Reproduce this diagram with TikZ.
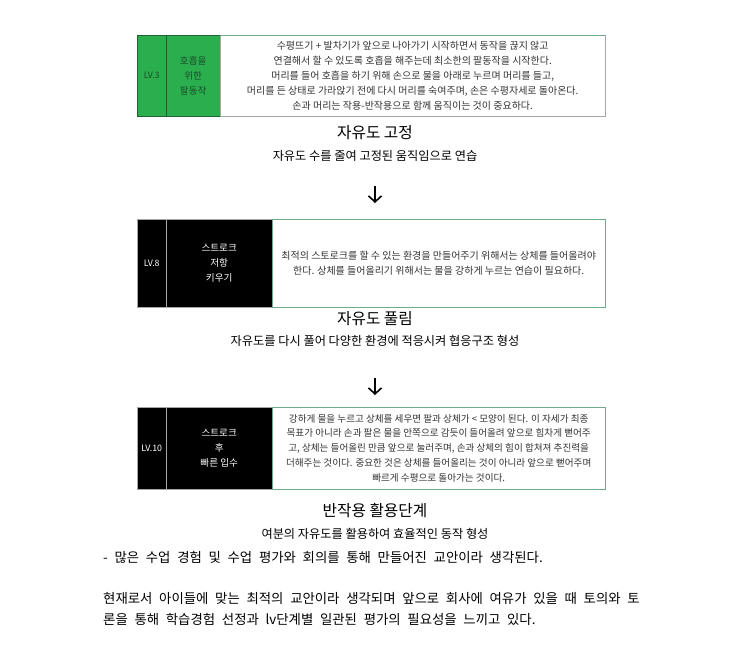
\documentclass[tikz,border=0pt]{standalone}
\usepackage{fontspec}
\setmainfont{Noto Sans CJK KR}
\usepackage{xcolor}
\usetikzlibrary{arrows.meta}

\definecolor{lvgreen}{HTML}{2BAE4E}
\definecolor{lvline}{HTML}{1F5F30}
\definecolor{lvtext}{HTML}{1E4D2B}
\definecolor{boxline}{HTML}{6FA88A}
\definecolor{sepgray}{HTML}{A6A6A6}

\newcommand{\notefont}{\fontsize{13.4}{15}\selectfont}
\newcommand{\widespace}{\spaceskip=0.5em plus 0.1em\relax}

\begin{document}
\begin{tikzpicture}[x=1pt, y=-1pt,
    cell/.style={draw, anchor=north west, inner sep=0pt, align=center,
        font=\fontsize{9.6}{14.8}\selectfont},
    greencell/.style={cell, fill=lvgreen, draw=lvline, text=lvtext},
    blackcell/.style={cell, fill=black, draw=sepgray, text=white},
    lvcell/.style={font=\fontsize{8.8}{10}\selectfont},
    textcell/.style={cell, fill=white, draw=boxline,
        font=\fontsize{10}{14.8}\selectfont, text=black!80},
    title/.style={font=\fontsize{15.7}{17}\selectfont},
    sub/.style={font=\fontsize{12.2}{14}\selectfont},
    body/.style={anchor=west, inner sep=0pt, font=\notefont},
    step arrow/.style={-{Straight Barb[length=6pt,width=13pt]}, line width=1.6pt}]

    \useasboundingbox (0,0) rectangle (740,649);

    % LV.3
    \node[greencell, lvcell, minimum width=29pt, minimum height=81pt] (lv3) at (137,35) {LV.3};
    \node[greencell, minimum width=54pt, minimum height=81pt] (g3) at (166,35) {호흡을\\위한\\팔동작};
    \node[textcell, draw=sepgray, minimum width=385pt, minimum height=81pt] (t3) at (220,35)
        {수평뜨기 + 발차기가 앞으로 나아가기 시작하면서 동작을 끊지 않고\\
         연결해서 할 수 있도록 호흡을 해주는데 최소한의 팔동작을 시작한다.\\
         머리를 들어 호흡을 하기 위해 손으로 물을 아래로 누르며 머리를 들고,\\
         머리를 든 상태로 가라앉기 전에 다시 머리를 숙여주며, 손은 수평자세로 돌아온다.\\
         손과 머리는 작용-반작용으로 함께 움직이는 것이 중요하다.};
    \draw[boxline] (t3.north west) -- (t3.north east);

    \node[title] (h1) at (375,133) {자유도 고정};
    \node[sub] (d1) at (375,156) {자유도 수를 줄여 고정된 움직임으로 연습};
    \coordinate (a1) at (375,186);
    \coordinate (b1) at (375,203);
    \draw[step arrow] (a1) -- (b1);

    % LV.8
    \node[blackcell, lvcell, minimum width=29pt, minimum height=88pt] (lv8) at (137,219) {LV.8};
    \node[blackcell, minimum width=106pt, minimum height=88pt] (s8) at (166,219) {스트로크\\저항\\키우기};
    \node[textcell, minimum width=333pt, minimum height=88pt] (t8) at (272,219)
        {최적의 스토로크를 할 수 있는 환경을 만들어주기 위해서는 상체를 들어올려야\\
         한다. 상체를 들어올리기 위해서는 물을 강하게 누르는 연습이 필요하다.};

    \node[title] (h2) at (375,319) {자유도 풀림};
    \node[sub] (d2) at (375,341) {자유도를 다시 풀어 다양한 환경에 적응시켜 협응구조 형성};
    \coordinate (a2) at (375,378);
    \coordinate (b2) at (375,395);
    \draw[step arrow] (a2) -- (b2);

    % LV.10
    \node[blackcell, lvcell, minimum width=29pt, minimum height=82pt] (lv10) at (137,407) {LV.10};
    \node[blackcell, minimum width=106pt, minimum height=82pt] (s10) at (166,407) {스트로크\\후\\빠른 입수};
    \node[textcell, font=\fontsize{9.6}{14.8}\selectfont, minimum width=333pt, minimum height=82pt] (t10) at (272,407)
        {강하게 물을 누르고 상체를 세우면 팔과 상체가 < 모양이 된다. 이 자세가 최종\\
         목표가 아니라 손과 팔은 물을 안쪽으로 감듯이 들어올려 앞으로 힘차게 뻗어주\\
         고, 상체는 들어올린 만큼 앞으로 눌러주며, 손과 상체의 힘이 합쳐져 추진력을\\
         더해주는 것이다. 중요한 것은 상체를 들어올리는 것이 아니라 앞으로 뻗어주며\\
         빠르게 수평으로 돌아가는 것이다.};

    \node[title] (h3) at (375,511) {반작용 활용단계};
    \node[sub] (d3) at (375,534) {여분의 자유도를 활용하여 효율적인 동작 형성};

    % notes
    \node[body] (n1) at (103,557) {\widespace - 많은 수업 경험 및 수업 평가와 회의를 통해 만들어진 교안이라 생각된다.};
    \node[body] (n2) at (103,598) {\widespace 현재로서 아이들에 맞는 최적의 교안이라 생각되며 앞으로 회사에 여유가 있을 때 토의와 토};
    \node[body] (n3) at (103,619) {\widespace 론을 통해 학습경험 선정과 lv단계별 일관된 평가의 필요성을 느끼고 있다.};

\end{tikzpicture}
\end{document}
